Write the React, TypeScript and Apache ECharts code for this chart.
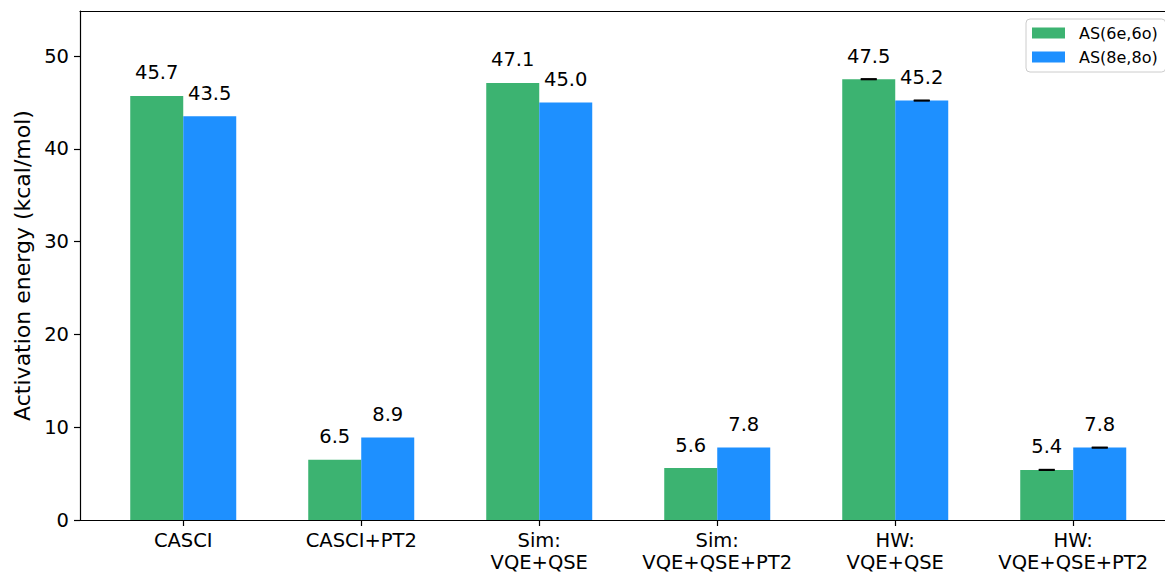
import React, { useEffect, useRef } from "react";
import * as echarts from "echarts";

const categories = [
  "CASCI",
  "CASCI+PT2",
  "Sim:\nVQE+QSE",
  "Sim:\nVQE+QSE+PT2",
  "HW:\nVQE+QSE",
  "HW:\nVQE+QSE+PT2",
];
const seriesNames = ["AS(6e,6o)", "AS(8e,8o)"];
const as6Values = [45.7, 6.5, 47.1, 5.6, 47.5, 5.4];
const as8Values = [43.5, 8.9, 45.0, 7.8, 45.2, 7.8];
const as6Errors = [0, 0, 0, 0, 0.03, 0.03];
const as8Errors = [0, 0, 0, 0, 0.03, 0.03];
const yTicks = [0, 10, 20, 30, 40, 50];
const yAxisName = "Activation energy (kcal/mol)";

const FONT = "DejaVu Sans";
const GREEN = "#3CB371";
const BLUE = "#1E90FF";
const BAR_W = 53;
const X_MIN = -0.58;
const X_MAX = 5.5155;

export default function App() {
  const ref = useRef<HTMLDivElement>(null);
  useEffect(() => {
    document.body.style.margin = "0";
    if (!ref.current) return;
    const chart = echarts.init(ref.current, undefined, { renderer: "svg" });
    const catIdx = categories.map((_, i) => i);

    const errSeries = (vals: number[], errs: number[], offset: number) => ({
      type: "custom",
      coordinateSystem: "cartesian2d",
      silent: true,
      z: 5,
      data: vals
        .map((v, i) => [i, v, errs[i]])
        .filter((d) => d[2] > 0),
      renderItem: (params: any, api: any) => {
        const x = api.value(0);
        const y = api.value(1);
        const e = api.value(2);
        const top = api.coord([x, y + e]);
        const bot = api.coord([x, y - e]);
        const cx = top[0] + offset;
        const hw = 8;
        const style = { stroke: "#000", lineWidth: 1.6 };
        return {
          type: "group",
          children: [
            { type: "line", shape: { x1: cx - hw, y1: top[1], x2: cx + hw, y2: top[1] }, style },
            { type: "line", shape: { x1: cx - hw, y1: bot[1], x2: cx + hw, y2: bot[1] }, style },
            { type: "line", shape: { x1: cx, y1: top[1], x2: cx, y2: bot[1] }, style },
          ],
        };
      },
    });

    const barLabel = {
      show: true,
      position: "top",
      distance: 13,
      fontFamily: FONT,
      fontSize: 19.5,
      color: "#000",
      formatter: (p: any) => Number(p.value[1]).toFixed(1),
    };

    chart.setOption({
      animation: false,
      backgroundColor: "#fff",
      textStyle: { fontFamily: FONT },
      grid: {
        left: 80,
        top: 11,
        right: 0,
        bottom: 53,
        show: false,
        containLabel: false,
        outerBoundsMode: "none",
      },
      legend: {
        data: seriesNames,
        orient: "vertical",
        left: 1026,
        top: 19,
        itemWidth: 33,
        itemHeight: 11,
        itemGap: 8,
        icon: "rect",
        padding: [6, 8, 7, 6],
        borderColor: "#cccccc",
        borderWidth: 1,
        borderRadius: 4,
        backgroundColor: "rgba(255,255,255,0.8)",
        textStyle: {
          fontFamily: FONT,
          fontSize: 16,
          color: "#000",
          padding: [0, 0, 0, 9],
        },
      },
      xAxis: [
        {
          type: "value",
          min: X_MIN,
          max: X_MAX,
          splitLine: { show: false },
          axisLine: { show: true, onZero: false, lineStyle: { color: "#000", width: 1.2 } },
          axisTick: {
            show: true,
            inside: false,
            length: 6,
            customValues: catIdx,
            lineStyle: { color: "#000", width: 1.2 },
          },
          axisLabel: {
            show: true,
            customValues: catIdx,
            margin: 9,
            fontFamily: FONT,
            fontSize: 19.5,
            color: "#000",
            lineHeight: 22,
            formatter: (v: number) => categories[Math.round(v)] ?? "",
          },
        },
        {
          type: "value",
          position: "top",
          min: X_MIN,
          max: X_MAX,
          splitLine: { show: false },
          axisLine: { show: true, onZero: false, lineStyle: { color: "#000", width: 1.2 } },
          axisTick: { show: false },
          axisLabel: { show: false },
        },
      ],
      yAxis: {
        type: "value",
        min: 0,
        max: 54.85,
        name: yAxisName,
        nameLocation: "middle",
        nameGap: 47,
        nameTextStyle: { fontFamily: FONT, fontSize: 22, color: "#000" },
        splitLine: { show: false },
        axisLine: { show: true, onZero: false, lineStyle: { color: "#000", width: 1.2 } },
        axisTick: {
          show: true,
          length: 6,
          customValues: yTicks,
          lineStyle: { color: "#000", width: 1.2 },
        },
        axisLabel: {
          show: true,
          customValues: yTicks,
          margin: 11,
          fontFamily: FONT,
          fontSize: 19.5,
          color: "#000",
        },
      },
      series: [
        {
          name: seriesNames[0],
          type: "bar",
          barWidth: BAR_W,
          barGap: "0%",
          itemStyle: { color: GREEN },
          label: barLabel,
          data: as6Values.map((v, i) => [i, v]),
        },
        {
          name: seriesNames[1],
          type: "bar",
          barWidth: BAR_W,
          barGap: "0%",
          itemStyle: { color: BLUE },
          label: barLabel,
          data: as8Values.map((v, i) => [i, v]),
        },
        errSeries(as6Values, as6Errors, -BAR_W / 2),
        errSeries(as8Values, as8Errors, BAR_W / 2),
      ],
    });
    return () => chart.dispose();
  }, []);
  return <div ref={ref} style={{ width: 1165, height: 573 }} />;
}
